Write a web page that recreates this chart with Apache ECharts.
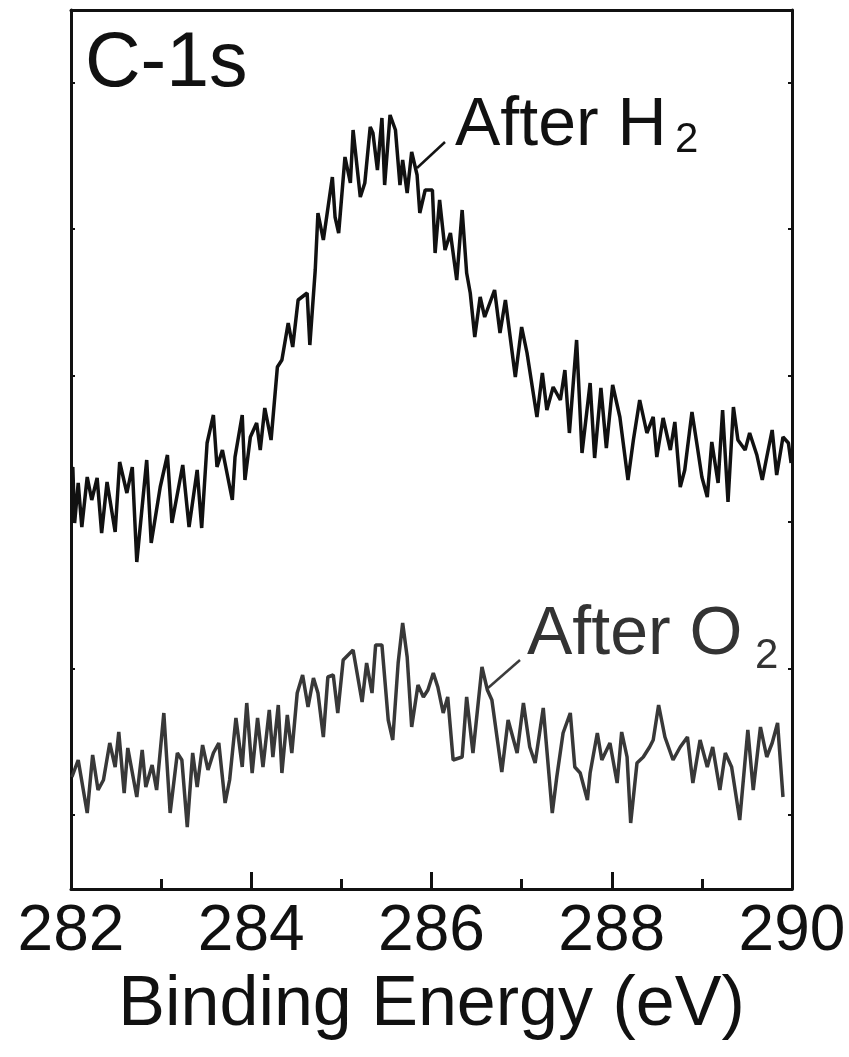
<!DOCTYPE html>
<html>
<head>
<meta charset="utf-8">
<script src="https://cdn.jsdelivr.net/npm/echarts@6/dist/echarts.min.js"></script>
<style>
html,body{margin:0;padding:0;background:#fff;}
#chart{width:849px;height:1057px;}
</style>
</head>
<body>
<div id="chart"></div>
<script>
// Binding energy (eV) and intensity (a.u.)
const h2Energy = [282.01,282.02,282.04,282.08,282.12,282.18,282.23,282.29,282.34,282.40,282.49,282.54,282.62,282.68,282.73,282.84,282.89,282.99,283.07,283.12,283.24,283.31,283.40,283.45,283.51,283.58,283.62,283.68,283.79,283.82,283.90,283.93,283.99,284.06,284.10,284.15,284.22,284.29,284.34,284.41,284.46,284.52,284.62,284.65,284.71,284.74,284.80,284.90,284.93,284.97,285.04,285.10,285.13,285.21,285.26,285.32,285.35,285.40,285.45,285.48,285.54,285.60,285.65,285.68,285.73,285.78,285.84,285.87,285.93,286.01,286.04,286.09,286.15,286.21,286.28,286.34,286.39,286.43,286.48,286.54,286.59,286.70,286.76,286.82,286.93,287.00,287.06,287.17,287.23,287.28,287.35,287.43,287.48,287.53,287.61,287.67,287.76,287.81,287.88,287.94,288.01,288.09,288.18,288.24,288.31,288.39,288.46,288.50,288.57,288.65,288.70,288.76,288.81,288.89,288.95,289.00,289.06,289.11,289.18,289.23,289.29,289.35,289.40,289.48,289.53,289.61,289.67,289.72,289.78,289.83,289.90,289.96,289.99];
const h2Counts = [419,422,366,406,362,412,389,411,356,407,357,427,396,422,327,429,346,402,434,366,424,362,419,361,446,474,422,439,389,432,474,409,452,466,439,481,449,522,529,566,542,589,596,544,619,676,649,712,672,656,732,706,759,692,706,762,756,719,771,704,774,759,704,729,696,737,714,676,699,699,636,689,639,656,609,679,616,596,552,592,572,599,556,589,512,562,536,472,516,479,502,489,519,456,549,436,506,431,501,441,504,472,409,449,489,456,472,432,471,439,467,402,419,477,442,412,392,447,406,479,387,482,449,439,456,434,409,432,459,414,452,446,426];

const o2Energy = [282.01,282.08,282.18,282.24,282.30,282.36,282.43,282.49,282.53,282.59,282.63,282.73,282.79,282.83,282.90,282.95,283.03,283.10,283.18,283.23,283.29,283.35,283.40,283.46,283.52,283.58,283.64,283.71,283.76,283.83,283.90,283.95,284.01,284.07,284.13,284.20,284.24,284.30,284.34,284.40,284.45,284.51,284.57,284.63,284.69,284.74,284.80,284.85,284.91,284.96,285.02,285.13,285.23,285.28,285.34,285.38,285.45,285.52,285.57,285.63,285.68,285.73,285.78,285.85,285.91,285.96,286.02,286.07,286.13,286.18,286.24,286.34,286.39,286.46,286.56,286.62,286.67,286.78,286.85,286.95,287.02,287.09,287.15,287.24,287.34,287.39,287.46,287.54,287.59,287.65,287.73,287.76,287.84,287.89,287.98,288.06,288.11,288.17,288.21,288.28,288.35,288.42,288.46,288.52,288.59,288.68,288.76,288.84,288.90,288.98,289.06,289.12,289.20,289.26,289.33,289.42,289.51,289.57,289.65,289.72,289.78,289.84,289.90];
const o2Counts = [112,129,76,134,99,109,146,122,157,96,141,92,139,102,124,99,176,76,136,129,62,136,102,144,119,136,146,86,109,171,122,186,116,171,122,179,132,184,116,174,136,196,214,182,211,196,152,212,214,176,229,239,187,226,196,244,244,169,149,226,266,232,162,204,192,199,216,202,176,192,129,132,192,136,222,199,189,117,169,136,186,142,126,181,76,112,156,176,122,116,89,116,156,129,146,106,157,132,66,126,132,142,149,184,152,129,142,152,106,149,122,142,99,136,122,69,159,99,162,132,146,166,92];

const xTicks = [282, 284, 286, 288, 290];
const yTickValues = [74, 220.5, 367, 513.5, 660, 806.5];

const zip = (a, b) => a.map((v, i) => [v, b[i]]);

const chart = echarts.init(document.getElementById('chart'), null, {renderer: 'canvas'});
const axisFont = 'Liberation Sans, Arial, Helvetica, sans-serif';

chart.setOption({
  animation: false,
  backgroundColor: '#ffffff',
  grid: {left: 71, right: 57, top: 10, bottom: 168, containLabel: false},
  xAxis: [{
    type: 'value', min: xTicks[0], max: xTicks[xTicks.length - 1], interval: 2,
    position: 'bottom',
    name: 'Binding Energy (eV)', nameLocation: 'middle', nameGap: 82,
    nameTextStyle: {fontSize: 70, fontFamily: axisFont, color: '#111'},
    axisLine: {show: true, lineStyle: {color: '#111', width: 3}},
    axisTick: {show: true, inside: true, length: 17, lineStyle: {color: '#111', width: 3}},
    minorTick: {show: true, splitNumber: 2, length: 10, lineStyle: {color: '#111', width: 3}},
    axisLabel: {fontSize: 64, fontFamily: axisFont, color: '#111', margin: 11},
    splitLine: {show: false}, minorSplitLine: {show: false}
  }, {
    type: 'value', min: 282, max: 290, position: 'top',
    axisLine: {show: true, onZero: false, lineStyle: {color: '#111', width: 3}},
    axisTick: {show: false}, axisLabel: {show: false}, splitLine: {show: false}
  }],
  yAxis: [{
    type: 'value', min: 0, max: 879, position: 'left',
    axisLine: {show: true, onZero: false, lineStyle: {color: '#111', width: 3}},
    axisTick: {show: true, inside: true, length: 4, customValues: yTickValues, lineStyle: {color: '#111', width: 2}},
    axisLabel: {show: false}, splitLine: {show: false}
  }, {
    type: 'value', min: 0, max: 879, position: 'right',
    axisLine: {show: true, onZero: false, lineStyle: {color: '#111', width: 3}},
    axisTick: {show: true, inside: true, length: 4, customValues: yTickValues, lineStyle: {color: '#111', width: 2}},
    axisLabel: {show: false}, splitLine: {show: false}
  }],
  series: [{
    name: 'After H2', type: 'line', data: zip(h2Energy, h2Counts),
    showSymbol: false, symbol: 'none',
    lineStyle: {color: '#111111', width: 3.5}
  }, {
    name: 'After O2', type: 'line', data: zip(o2Energy, o2Counts),
    showSymbol: false, symbol: 'none',
    lineStyle: {color: '#383838', width: 3.5}
  }],
  graphic: [
    {type: 'text', left: 85, top: 26, style: {text: 'C-1s', fontSize: 77, fontFamily: axisFont, fill: '#111'}},
    {type: 'text', x: 455, y: 126, style: {text: 'After H', fontSize: 68, fontFamily: axisFont, fill: '#111', verticalAlign: 'middle', align: 'left'}},
    {type: 'text', x: 675, y: 140, style: {text: '2', fontSize: 42, fontFamily: axisFont, fill: '#111', verticalAlign: 'middle', align: 'left'}},
    {type: 'line', shape: {x1: 417, y1: 168, x2: 445, y2: 142}, style: {stroke: '#141414', lineWidth: 2.5}},
    {type: 'text', x: 527, y: 635, style: {text: 'After O', fontSize: 68, fontFamily: axisFont, fill: '#333', verticalAlign: 'middle', align: 'left'}},
    {type: 'text', x: 755, y: 656, style: {text: '2', fontSize: 42, fontFamily: axisFont, fill: '#333', verticalAlign: 'middle', align: 'left'}},
    {type: 'line', shape: {x1: 488, y1: 688, x2: 520, y2: 660}, style: {stroke: '#3c3c3c', lineWidth: 2.5}}
  ]
});
</script>
</body>
</html>
